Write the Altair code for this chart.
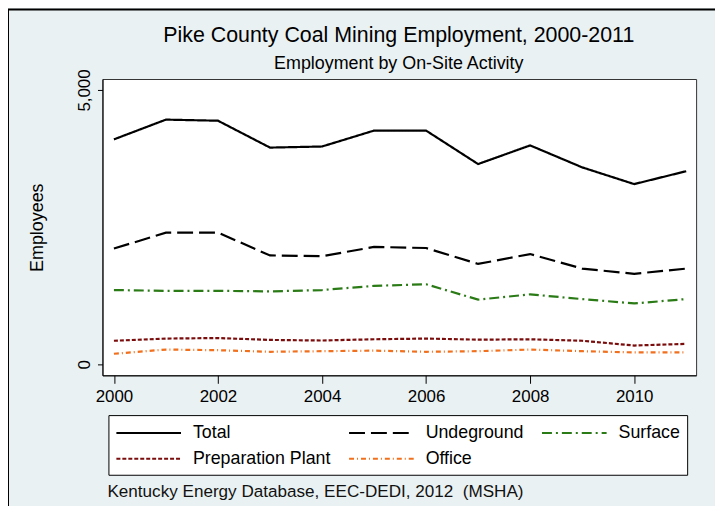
import altair as alt
import pandas as pd

years = list(range(2000, 2012))
total = [4100, 4460, 4440, 3950, 3970, 4260, 4260, 3650, 3990, 3590, 3285, 3520]
underground = [2110, 2400, 2400, 1985, 1970, 2140, 2120, 1830, 2010, 1745, 1650, 1745]
surface = [1354, 1340, 1340, 1330, 1354, 1430, 1460, 1180, 1275, 1190, 1110, 1190]
prep_plant = [430, 470, 480, 445, 435, 457, 470, 450, 457, 430, 343, 373]
office = [193, 270, 258, 229, 240, 250, 229, 240, 270, 240, 217, 217]

series_names = ["Total", "Undeground", "Surface", "Preparation Plant", "Office"]
series_values = [total, underground, surface, prep_plant, office]
series_colors = ["#000000", "#000000", "#2a7a16", "#7a0c0c", "#f0701e"]
series_dashes = [[1, 0], [16, 6], [10, 4, 2, 4], [4, 2], [5, 3, 1, 3]]

x_ticks = [2000, 2002, 2004, 2006, 2008, 2010]
y_ticks = [0, 5000]

title_text = "Pike County Coal Mining Employment, 2000-2011"
subtitle_text = "Employment by On-Site Activity"
y_title = "Employees"
note_text = "Kentucky Energy Database, EEC-DEDI, 2012\u00a0 (MSHA)"

FONT = "Liberation Sans"

rows = []
for name, vals in zip(series_names, series_values):
    for yr, v in zip(years, vals):
        rows.append({"year": yr, "employees": v, "series": name})
df = pd.DataFrame(rows)

one = pd.DataFrame({"k": [0]})

frame = alt.Chart(one).mark_rect(
    fillOpacity=0, stroke="#000000", strokeWidth=2
).encode(
    x=alt.value(-95), x2=alt.value(617), y=alt.value(-70), y2=alt.value(560)
)

lines = alt.Chart(df).mark_line(strokeWidth=2.2).encode(
    x=alt.X(
        "year:Q",
        scale=alt.Scale(domain=[1999.78, 2011.19], nice=False, zero=False),
        axis=alt.Axis(values=x_ticks, format="d", title=None, grid=False,
                      labelPadding=5, tickSize=8),
    ),
    y=alt.Y(
        "employees:Q",
        scale=alt.Scale(domain=[-200, 5200], nice=False, zero=False),
        axis=alt.Axis(values=y_ticks, format=",d", title=y_title, grid=False,
                      labelAngle=270, labelAlign="center", labelBaseline="bottom",
                      labelPadding=4, titlePadding=29),
    ),
    color=alt.Color(
        "series:N",
        scale=alt.Scale(domain=series_names, range=series_colors),
        title=None,
        legend=alt.Legend(
            orient="none", legendX=6, legendY=338, columns=3,
            direction="horizontal",
            fillColor="#ffffff", strokeColor="#000000", padding=7,
            symbolType="M-1,0L5.5,0", symbolSize=400, symbolStrokeWidth=2,
            labelFont=FONT, labelFontSize=17.9, labelColor="#000000",
            labelOffset=56, columnPadding=14, rowPadding=6,
            labelLimit=300,
        ),
    ),
    strokeDash=alt.StrokeDash(
        "series:N",
        scale=alt.Scale(domain=series_names, range=series_dashes),
        title=None,
    ),
    order="year:Q",
)

title_mark = alt.Chart(one).mark_text(
    text=title_text, align="center", baseline="alphabetic", font=FONT,
    fontSize=21.5, color="#000000"
).encode(x=alt.value(298), y=alt.value(-37))

subtitle_mark = alt.Chart(one).mark_text(
    text=subtitle_text, align="center", baseline="alphabetic", font=FONT,
    fontSize=18, color="#000000"
).encode(x=alt.value(298), y=alt.value(-10))

note = alt.Chart(one).mark_text(
    text=note_text, align="left", baseline="middle", font=FONT,
    fontSize=17.2, color="#111111"
).encode(x=alt.value(5), y=alt.value(415))

chart = alt.layer(frame, lines, title_mark, subtitle_mark, note).properties(
    width=597,
    height=298,
    autosize="none",
    padding={"left": 95, "top": 70, "right": 19, "bottom": 130},
    background="#eaf1f2",
).configure_view(
    fill="#ffffff", stroke="#333333", strokeWidth=1
).configure_axis(
    labelFont=FONT, labelFontSize=17, labelColor="#000000",
    titleFont=FONT, titleFontSize=18, titleFontWeight="normal", titleColor="#000000",
    tickColor="#000000", domainColor="#000000", domainWidth=1,
)

chart.save("out.html", embed_options={"renderer": "svg", "actions": False})
